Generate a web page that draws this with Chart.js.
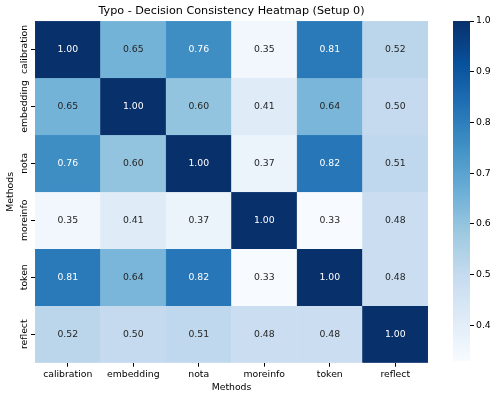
<!DOCTYPE html>
<html>
<head>
<meta charset="utf-8">
<script src="https://cdn.jsdelivr.net/npm/chart.js@4.4.0/dist/chart.umd.min.js"></script>
<style>
  html, body { margin: 0; padding: 0; background: #fff; }
  #wrap { position: relative; width: 498px; height: 397px; }
  #heat { position: absolute; left: 0; top: 0; }
  #cbar { position: absolute; left: 441px; top: 0; }
</style>
</head>
<body>
<div id="wrap">
  <canvas id="heat" width="498" height="397"></canvas>
  <canvas id="cbar" width="57" height="397"></canvas>
</div>
<script>
// --- data ---
const methods = ['calibration', 'embedding', 'nota', 'moreinfo', 'token', 'reflect'];
const rowCalibration = [1.00, 0.65, 0.76, 0.35, 0.81, 0.52];
const rowEmbedding   = [0.65, 1.00, 0.60, 0.41, 0.64, 0.50];
const rowNota        = [0.76, 0.60, 1.00, 0.37, 0.82, 0.51];
const rowMoreinfo    = [0.35, 0.41, 0.37, 1.00, 0.33, 0.48];
const rowToken       = [0.81, 0.64, 0.82, 0.33, 1.00, 0.48];
const rowReflect     = [0.52, 0.50, 0.51, 0.48, 0.48, 1.00];
const rows = [rowCalibration, rowEmbedding, rowNota, rowMoreinfo, rowToken, rowReflect];
const colorbarTicks = [0.4, 0.5, 0.6, 0.7, 0.8, 0.9, 1.0];
const vmin = 0.33, vmax = 1.0;
const TITLE = 'Typo - Decision Consistency Heatmap (Setup 0)';

// matplotlib "Blues"
const blues = ['#f7fbff', '#deebf7', '#c6dbef', '#9ecae1', '#6baed6', '#4292c6', '#2171b5', '#08519c', '#08306b'];
const hex2rgb = h => [1, 3, 5].map(i => parseInt(h.substr(i, 2), 16));
const stops = blues.map(hex2rgb);

function cmap(v) {
    let t = (v - vmin) / (vmax - vmin);
    t = Math.max(0, Math.min(1, t)) * (stops.length - 1);
    const i = Math.min(Math.floor(t), stops.length - 2);
    const f = t - i;
    return stops[i].map((c, k) => Math.round(c + (stops[i + 1][k] - c) * f));
}
const rgbStr = c => `rgb(${c[0]},${c[1]},${c[2]})`;
function luminance(c) {
    const l = c.map(x => {
        x /= 255;
        return x <= 0.03928 ? x / 12.92 : Math.pow((x + 0.055) / 1.055, 2.4);
    });
    return 0.2126 * l[0] + 0.7152 * l[1] + 0.0722 * l[2];
}

const FONT = 'DejaVu Sans';
const FS = 9.3;
const TXT = '#000';
Chart.defaults.font.family = FONT;
Chart.defaults.font.size = FS;
Chart.defaults.color = TXT;

// annotate each cell with its value
const annotate = {
    id: 'annotate',
    afterDatasetsDraw(chart) {
        const ctx = chart.ctx;
        ctx.save();
        ctx.font = `${FS}px "${FONT}"`;
        ctx.textAlign = 'center';
        ctx.textBaseline = 'middle';
        chart.data.datasets.forEach((ds, i) => {
            chart.getDatasetMeta(i).data.forEach((bar, j) => {
                const v = rows[i][j];
                const p = bar.getCenterPoint();
                ctx.fillStyle = luminance(cmap(v)) > 0.408 ? '#262626' : '#ffffff';
                ctx.fillText(v.toFixed(2), p.x, p.y);
            });
        });
        ctx.restore();
    }
};

// rotated row labels, y title, and title centred over the cells
const labels = {
    id: 'labels',
    afterDraw(chart) {
        const ctx = chart.ctx;
        const y = chart.scales.y;
        const area = chart.chartArea;
        ctx.save();
        ctx.fillStyle = TXT;
        ctx.textAlign = 'center';
        ctx.textBaseline = 'bottom';
        ctx.font = `11.2px "${FONT}"`;
        ctx.fillText(TITLE, (area.left + area.right) / 2, area.top - 4);
        ctx.font = `${FS}px "${FONT}"`;
        methods.forEach((m, i) => {
            ctx.save();
            ctx.translate(y.right - 6, y.getPixelForValue(i + 0.5));
            ctx.rotate(-Math.PI / 2);
            ctx.fillText(m, 0, 0);
            ctx.restore();
        });
        ctx.translate(y.left + 15, (y.top + y.bottom) / 2);
        ctx.rotate(-Math.PI / 2);
        ctx.fillText('Methods', 0, 0);
        ctx.restore();
    }
};

new Chart(document.getElementById('heat'), {
    type: 'bar',
    data: {
        labels: methods,
        datasets: rows.map((r, i) => ({
            label: methods[i],
            data: r.map(() => 1),
            backgroundColor: r.map(v => rgbStr(cmap(v))),
            borderColor: r.map(v => rgbStr(cmap(v))),
            borderWidth: 0.5,
            borderSkipped: false,
            barPercentage: 1,
            categoryPercentage: 1
        }))
    },
    options: {
        responsive: false,
        animation: false,
        layout: { padding: { top: 21, right: 70, bottom: 0, left: 0 } },
        plugins: {
            legend: { display: false },
            tooltip: { enabled: false },
            title: { display: false }
        },
        scales: {
            x: {
                stacked: true,
                border: { display: false },
                grid: { display: true, drawOnChartArea: false, offset: false, tickLength: 4, color: '#000' },
                ticks: { color: TXT, padding: 2, maxRotation: 0 },
                title: { display: true, text: 'Methods', color: TXT, padding: { top: 0, bottom: 4 } }
            },
            y: {
                stacked: true,
                min: 0,
                max: 6,
                reverse: true,
                border: { display: false },
                afterBuildTicks: s => { s.ticks = methods.map((m, i) => ({ value: i + 0.5 })); },
                afterFit: s => { s.width = 35; },
                grid: { display: true, drawOnChartArea: false, tickLength: 4, color: '#000' },
                ticks: { display: false }
            }
        }
    },
    plugins: [annotate, labels]
});

// colorbar
new Chart(document.getElementById('cbar'), {
    type: 'bar',
    data: {
        labels: [''],
        datasets: [{
            data: [[vmin, vmax]],
            barPercentage: 1,
            categoryPercentage: 1,
            borderWidth: 0,
            backgroundColor: ctx => {
                const chart = ctx.chart;
                const y = chart.scales.y;
                if (!chart.chartArea) return blues[4];
                const g = chart.ctx.createLinearGradient(0, y.getPixelForValue(vmin), 0, y.getPixelForValue(vmax));
                for (let k = 0; k <= 40; k++) {
                    g.addColorStop(k / 40, rgbStr(cmap(vmin + (vmax - vmin) * k / 40)));
                }
                return g;
            }
        }]
    },
    options: {
        responsive: false,
        animation: false,
        layout: { padding: { top: 21, bottom: 36, left: 12, right: 0 } },
        plugins: { legend: { display: false }, tooltip: { enabled: false } },
        scales: {
            x: { display: false },
            y: {
                position: 'right',
                min: vmin,
                max: vmax,
                border: { display: false },
                afterBuildTicks: s => { s.ticks = colorbarTicks.map(v => ({ value: v })); },
                afterFit: s => { s.width = 28; },
                grid: { display: true, drawOnChartArea: false, tickLength: 4, color: '#000' },
                ticks: { color: TXT, padding: 2, callback: v => v.toFixed(1) }
            }
        }
    }
});
</script>
</body>
</html>
